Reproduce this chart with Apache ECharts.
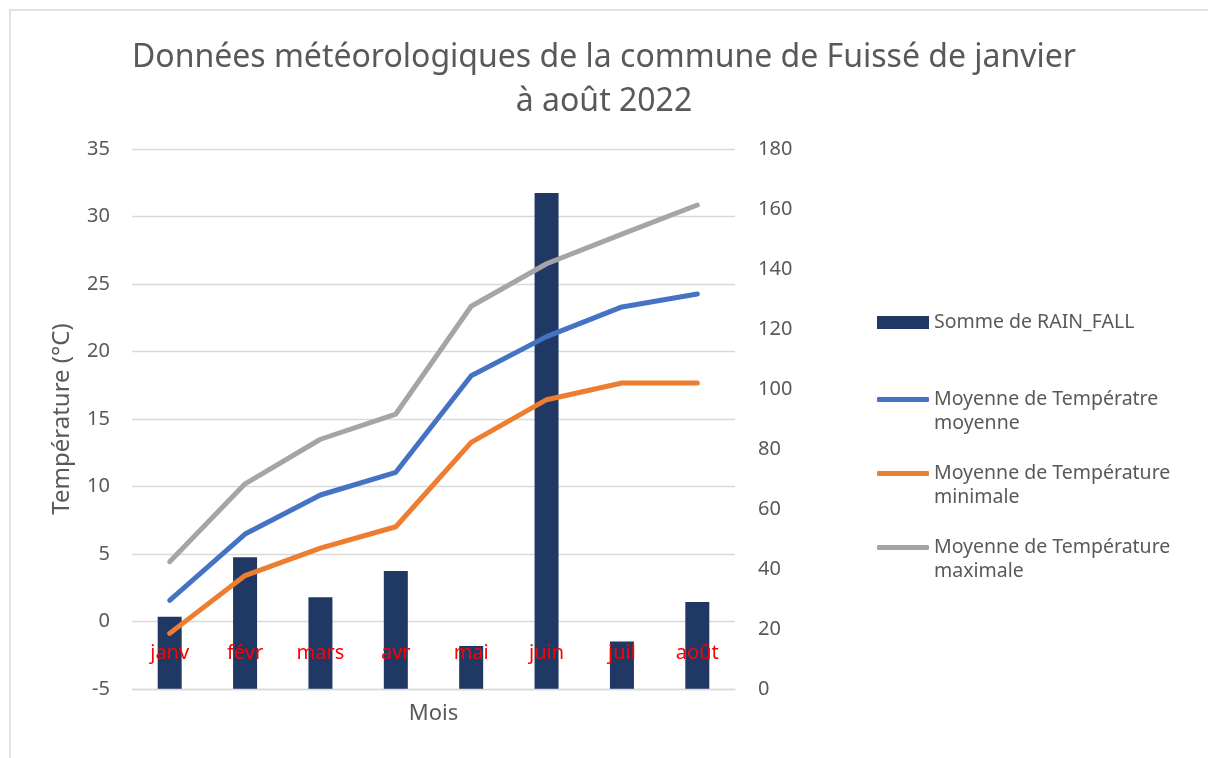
<!DOCTYPE html>
<html>
<head>
<meta charset="utf-8">
<script src="https://cdn.jsdelivr.net/npm/echarts@6/dist/echarts.min.js"></script>
<style>
    html, body { margin: 0; padding: 0; background: #fff; }
    #main { width: 1208px; height: 758px; }
</style>
</head>
<body>
<div id="main"></div>
<script>
// données
var months = ['janv', 'févr', 'mars', 'avr', 'mai', 'juin', 'juil', 'août'];
var rainFall = [24.1, 43.9, 30.6, 39.3, 14.3, 165.3, 15.8, 29.0];
var tempMoy = [1.57, 6.48, 9.37, 11.05, 18.2, 21.1, 23.3, 24.26];
var tempMin = [-0.88, 3.4, 5.44, 7.02, 13.27, 16.43, 17.67, 17.67];
var tempMax = [4.43, 10.2, 13.5, 15.37, 23.35, 26.5, 28.7, 30.85];

var txt = '#595959';
var font = 'Noto Sans';
var legendSize = 19.5;

var chart = echarts.init(document.getElementById('main'));

function legendFor(name, top, isLine) {
    return {
        data: [name],
        left: 877,
        top: top,
        padding: 0,
        orient: 'vertical',
        icon: isLine ? 'roundRect' : 'rect',
        itemWidth: 52,
        itemHeight: isLine ? 5 : 13,
        itemGap: 5,
        textStyle: {color: txt, fontSize: legendSize, fontFamily: font},
        formatter: function (n) {
            return n.split('|')[0];
        }
    };
}

function secondLine(text, top) {
    return {type: 'text', left: 934, top: top, style: {text: text, fill: txt, fontSize: legendSize, fontFamily: font}};
}

var option = {
    animation: false,
    title: {
        text: 'Données météorologiques de la commune de Fuissé de janvier\nà août 2022',
        left: 'center',
        top: 31,
        textStyle: {color: txt, fontSize: 32, fontWeight: 'normal', fontFamily: font, lineHeight: 44,
            padding: [0, 0, 0, 16]}
    },
    legend: [
        legendFor('Somme de RAIN_FALL', 312.5, false),
        legendFor('Moyenne de Températre|moyenne', 389.5, true),
        legendFor('Moyenne de Température|minimale', 463.5, true),
        legendFor('Moyenne de Température|maximale', 537.5, true)
    ],
    graphic: [
        {type: 'rect', shape: {x: 10, y: 10, width: 1300, height: 800},
            style: {fill: 'none', stroke: '#d9d9d9', lineWidth: 1.5}},
        secondLine('moyenne', 413),
        secondLine('minimale', 487),
        secondLine('maximale', 561)
    ],
    grid: {left: 132, right: 473, top: 149, bottom: 69, outerBoundsMode: 'none'},
    xAxis: {
        type: 'category',
        data: months,
        name: 'Mois',
        nameLocation: 'middle',
        nameGap: 14,
        nameTextStyle: {color: txt, fontSize: 22, fontFamily: font},
        axisLine: {show: true, onZero: false, lineStyle: {color: '#d9d9d9', width: 1.3}},
        axisTick: {show: false},
        axisLabel: {color: '#ff0000', fontSize: 20, fontFamily: font, margin: -46},
        z: 10
    },
    yAxis: [
        {
            type: 'value',
            min: -5,
            max: 35,
            interval: 5,
            name: 'Température (°C)',
            nameLocation: 'middle',
            nameGap: 58,
            nameTextStyle: {color: txt, fontSize: 24, fontFamily: font},
            axisLine: {show: false},
            axisTick: {show: false},
            axisLabel: {color: txt, fontSize: 20, fontFamily: font, margin: 22},
            splitLine: {lineStyle: {color: '#d9d9d9', width: 1.3}}
        },
        {
            type: 'value',
            min: 0,
            max: 180,
            interval: 20,
            position: 'right',
            axisLine: {show: false},
            axisTick: {show: false},
            axisLabel: {color: txt, fontSize: 20, fontFamily: font, margin: 23},
            splitLine: {show: false}
        }
    ],
    series: [
        {
            name: 'Somme de RAIN_FALL',
            type: 'bar',
            yAxisIndex: 1,
            barWidth: 24,
            itemStyle: {color: '#203864'},
            data: rainFall,
            z: 1
        },
        {
            name: 'Moyenne de Températre|moyenne',
            type: 'line',
            yAxisIndex: 0,
            symbol: 'none',
            lineStyle: {color: '#4472c4', width: 5, cap: 'round', join: 'round'},
            itemStyle: {color: '#4472c4'},
            data: tempMoy
        },
        {
            name: 'Moyenne de Température|minimale',
            type: 'line',
            yAxisIndex: 0,
            symbol: 'none',
            lineStyle: {color: '#ed7d31', width: 5, cap: 'round', join: 'round'},
            itemStyle: {color: '#ed7d31'},
            data: tempMin
        },
        {
            name: 'Moyenne de Température|maximale',
            type: 'line',
            yAxisIndex: 0,
            symbol: 'none',
            lineStyle: {color: '#a5a5a5', width: 5, cap: 'round', join: 'round'},
            itemStyle: {color: '#a5a5a5'},
            data: tempMax
        }
    ]
};

chart.setOption(option);
</script>
</body>
</html>
